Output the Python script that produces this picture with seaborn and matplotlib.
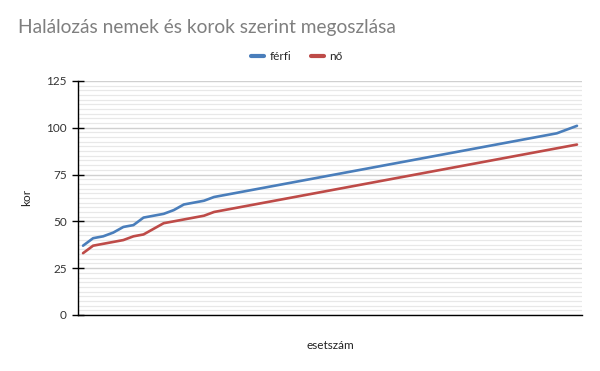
import numpy as np
import pandas as pd
import matplotlib
matplotlib.use("Agg")
import matplotlib.pyplot as plt
from matplotlib.ticker import MultipleLocator
from matplotlib.lines import Line2D
import seaborn as sns

# ---- data ----
series_names = ["férfi", "nő"]
ferfi = [37, 41, 42, 44, 47, 48, 52, 53, 54, 56, 59, 60, 61, 63,
         64, 65, 66, 67, 68, 69, 70, 71, 72, 73, 74, 75, 76, 77, 78, 79,
         80, 81, 82, 83, 84, 85, 86, 87, 88, 89, 90, 91, 92, 93, 94, 95,
         96, 97, 99, 101]
no = [33, 37, 38, 39, 40, 42, 43, 46, 49, 50, 51, 52, 53, 55,
      56, 57, 58, 59, 60, 61, 62, 63, 64, 65, 66, 67, 68, 69, 70, 71,
      72, 73, 74, 75, 76, 77, 78, 79, 80, 81, 82, 83, 84, 85, 86, 87,
      88, 89, 90, 91]
case_numbers = list(range(1, len(ferfi) + 1))
y_ticks = [0, 25, 50, 75, 100, 125]

title_text = "Halálozás nemek és korok szerint megoszlása"
x_label = "esetszám"
y_label = "kor"

df = pd.DataFrame({
    "esetszám": case_numbers * 2,
    "kor": ferfi + no,
    "nem": [series_names[0]] * len(ferfi) + [series_names[1]] * len(no),
})

sns.set_theme(style="white")
plt.rcParams["font.family"] = ["Lato", "DejaVu Sans"]

fig = plt.figure(figsize=(6.0, 3.71), dpi=100)
ax = fig.add_axes([0.13, 0.151, 0.84, 0.631])

palette = {"férfi": "#4a7ebb", "nő": "#be4b48"}
sns.lineplot(data=df, x="esetszám", y="kor", hue="nem", palette=palette,
             linewidth=1.9, ax=ax, legend=False)

ax.set_xlim(case_numbers[0] - 0.5, case_numbers[-1] + 0.5)
ax.set_ylim(0, 125)
ax.set_yticks(y_ticks)
ax.yaxis.set_minor_locator(MultipleLocator(2.5))
ax.set_xticks([])

ax.grid(which="major", axis="y", color="#d0d0d0", linewidth=1.0)
ax.grid(which="minor", axis="y", color="#e8e8e8", linewidth=0.9)
ax.set_axisbelow(True)

for s in ["top", "right"]:
    ax.spines[s].set_visible(False)
for s in ["left", "bottom"]:
    ax.spines[s].set_color("black")
    ax.spines[s].set_linewidth(1.0)

ax.tick_params(axis="y", which="major", direction="inout", length=8,
               width=1.0, color="black", labelsize=8.5, labelcolor="#333333", pad=4,
               left=True)
ax.tick_params(axis="y", which="minor", left=False)

ax.set_xlabel(x_label, fontsize=8.5, color="#222222", labelpad=18)
ax.set_ylabel(y_label, fontsize=8.5, color="#222222", labelpad=10)

fig.text(0.03, 0.925, title_text, fontsize=13.8, color="#7f7f7f",
         ha="left", va="center")

handles = [Line2D([0], [0], color=palette[n], lw=3) for n in series_names]
fig.legend(handles, series_names, loc="center", bbox_to_anchor=(0.495, 0.848),
           ncol=2, frameon=False, fontsize=8.5, handlelength=1.1,
           handletextpad=0.5, columnspacing=1.6)

fig.savefig("out.png", dpi=100)
